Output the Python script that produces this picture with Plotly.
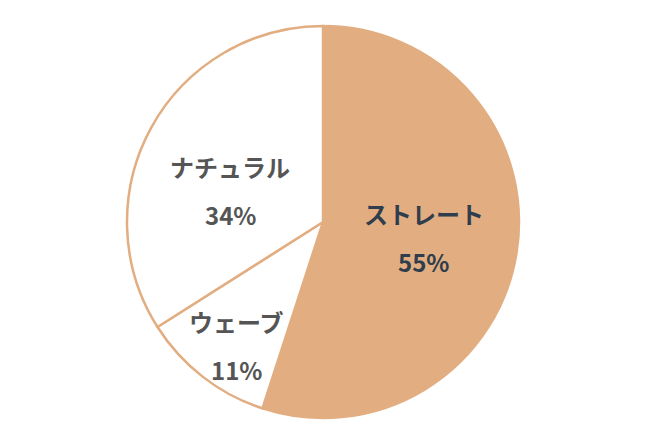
import math
import plotly.graph_objects as go

labels = ["ストレート", "ウェーブ", "ナチュラル"]
values = [55, 11, 34]
fill_colors = ["#E2AE81", "#FFFFFF", "#FFFFFF"]
text_colors = ["#2F3D4C", "#555555", "#555555"]

# label placement style (fraction of radius, angular nudge in degrees)
label_radius = [0.52, 0.77, 0.50]
label_nudge = [0, -3, -10]

W, H = 647, 444
M_L, M_R, M_T, M_B = 0, 17, 18, 34
plot_w = W - M_L - M_R
plot_h = H - M_T - M_B
R = min(plot_w, plot_h) / 2

fig = go.Figure(go.Pie(
    labels=labels,
    values=values,
    sort=False,
    direction="clockwise",
    rotation=0,
    marker=dict(colors=fill_colors, line=dict(color="#E2AE81", width=2.5)),
    textinfo="none",
    hoverinfo="none",
    showlegend=False,
))

total = sum(values)
cum = 0
annotations = []
for i, v in enumerate(values):
    mid = (cum + v / 2) / total * 360 + label_nudge[i]
    cum += v
    a = math.radians(mid)
    dx = math.sin(a) * label_radius[i] * R
    dy = math.cos(a) * label_radius[i] * R
    xp = 0.5 + dx / plot_w
    yp = 0.5 + dy / plot_h
    pct = f"{round(v / total * 100)}%"
    for txt, shift in ((labels[i], 24), (pct, -24)):
        annotations.append(dict(
            x=xp, y=yp, xref="paper", yref="paper",
            text=txt, showarrow=False, yshift=shift,
            xanchor="center", yanchor="middle",
            font=dict(family="Noto Sans CJK JP", size=24, color=text_colors[i], weight=700),
        ))

fig.update_layout(
    width=W, height=H,
    margin=dict(l=M_L, r=M_R, t=M_T, b=M_B),
    paper_bgcolor="white",
    annotations=annotations,
)

fig.write_html("out.html")
